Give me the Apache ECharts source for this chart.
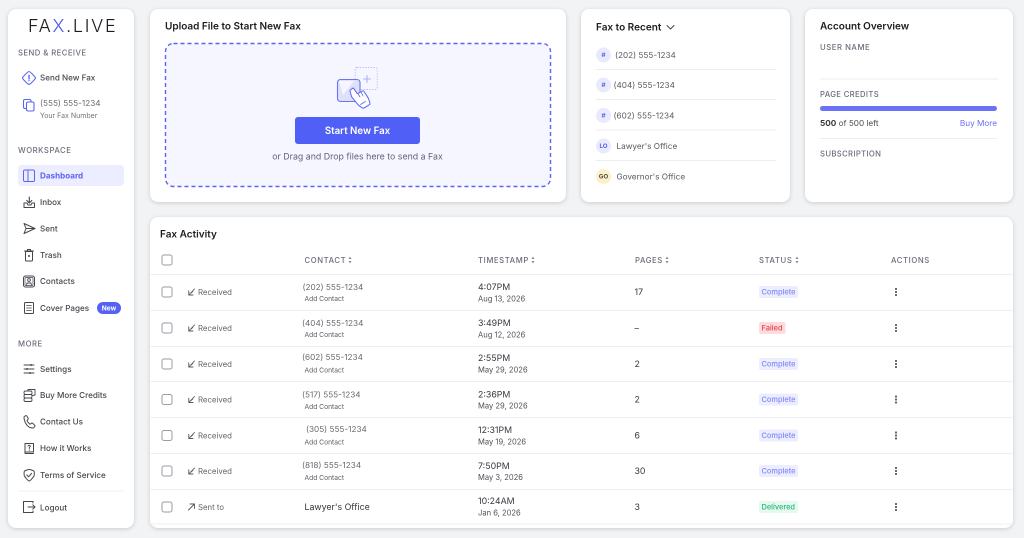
<!DOCTYPE html>
<html><head><meta charset="utf-8">
<style>html,body{margin:0;padding:0;background:#f2f3f5}#c{width:1024px;height:538px}</style>
<script src="https://cdn.jsdelivr.net/npm/echarts@6/dist/echarts.min.js"></script>
</head><body><div id="c"></div>
<script>
// ---- data ----
const workspaceItems = ['Inbox','Sent','Trash','Contacts','Cover Pages'];
const moreItems = ['Settings','Buy More Credits','Contact Us','How it Works','Terms of Service'];
const recentNames = ['(202) 555-1234','(404) 555-1234','(602) 555-1234',"Lawyer's Office","Governor's Office"];
const recentBadges = ['#','#','#','LO','GO'];
const directions = ['Received','Received','Received','Received','Received','Received','Sent to'];
const contacts = ['(202) 555-1234','(404) 555-1234','(602) 555-1234','(517) 555-1234','(305) 555-1234','(818) 555-1234',"Lawyer's Office"];
const times = ['4:07PM','3:49PM','2:55PM','2:36PM','12:31PM','7:50PM','10:24AM'];
const dates = ['Aug 13, 2026','Aug 12, 2026','May 29, 2026','May 29, 2026','May 19, 2026','May 3, 2026','Jan 6, 2026'];
const pages = ['17','–','2','2','6','30','3'];
const statuses = ['Complete','Failed','Complete','Complete','Complete','Complete','Delivered'];
const tableHeaders = ['CONTACT','TIMESTAMP','PAGES','STATUS','ACTIONS'];
const creditsLeft = [500];
const creditsTotal = 500;

// ---- letter spacing for the tracked labels ----
const tracking = {'FA':1.7,'X':1.7,'.LIVE':1.7,'SEND & RECEIVE':.45,'WORKSPACE':.55,'MORE':.55,'USER NAME':.55,'PAGE CREDITS':.35,'SUBSCRIPTION':.35,
 'CONTACT':.6,'TIMESTAMP':.6,'PAGES':.6,'STATUS':.6,'ACTIONS':.6};
['fillText','measureText'].forEach(m=>{
  const p=CanvasRenderingContext2D.prototype, o=p[m];
  p[m]=function(t,...a){ this.letterSpacing=(tracking[t]||0)+'px'; const r=o.call(this,t,...a); this.letterSpacing='0px'; return r; };
});

// ---- drawing helpers ----
const els=[]; const F='Inter';
const BLUE='#5c64f2', INK='#46464e', HEAD='#6c6c7c';
function T(x,y,text,size,fill,weight,align){els.push({type:'text',silent:true,style:{text,x,y:y+.5,fontSize:size,fontFamily:F,fontWeight:weight||400,fill,
  textAlign:align||'left',align:align||'left',textVerticalAlign:'middle',verticalAlign:'middle'}});}
function R(x,y,w,h,r,fill,stroke,lw,extra){els.push({type:'rect',silent:true,shape:{x,y,width:w,height:h,r},style:Object.assign({fill:fill||'none',stroke:stroke||'none',lineWidth:lw||1},extra||{})});}
function C(cx,cy,r,fill,stroke,lw){els.push({type:'circle',silent:true,shape:{cx,cy,r},style:{fill:fill||'none',stroke:stroke||'none',lineWidth:lw||1}});}
function P(points,stroke,lw){els.push({type:'polyline',silent:true,shape:{points},style:{fill:'none',stroke,lineWidth:lw||1,lineJoin:'round',lineCap:'round'}});}
function G(points,fill,stroke,lw,smooth){els.push({type:'polygon',silent:true,shape:{points,smooth:smooth||0},style:{fill:fill||'none',stroke:stroke||'none',lineWidth:lw||1,lineJoin:'round'}});}
function card(x,y,w,h){R(x,y,w,h,8,'#fff',null,1,{shadowColor:'rgba(0,0,0,.16)',shadowBlur:4,shadowOffsetY:1});}
const line=(x1,x2,y,c)=>P([[x1,y],[x2,y]],c||'#eeeef1',1);

// ---- cards ----
card(8,9,126,519); card(150,9,416,193); card(581,9,209,193); card(805,9,208,193); card(150,217,863,311);

// ---- sidebar ----
els.push({type:'text',silent:true,style:{text:'{a|FA}{b|X}{a|.LIVE}',x:28,y:26.5,textAlign:'left',align:'left',textVerticalAlign:'middle',verticalAlign:'middle',
  rich:{a:{fontSize:18,fontFamily:F,fontWeight:300,fill:'#1b1b22'},b:{fontSize:18,fontFamily:F,fontWeight:300,fill:'#4a55f0'}}}});
const HS=7.7, NAV=8.1;
T(18,52.5,'SEND & RECEIVE',HS,HEAD,500);
T(40,77.5,'Send New Fax',NAV,INK,500);
T(40,103,'(555) 555-1234',8.2,'#6a6a72');
T(40,115.5,'Your Fax Number',7,'#74747e');
T(18,150,'WORKSPACE',HS,HEAD,500);
R(18,165,106,21,4,'#ecedfe');
T(40,175.5,'Dashboard',8.1,BLUE,700);
const wsY=[202,228.5,255,281,308];
workspaceItems.forEach((n,i)=>T(40,wsY[i],n,NAV,INK,500));
R(97,302,24,12,6,'#5560f5');
T(109,308,'New',6.6,'#fff',700,'center');
T(18,343.5,'MORE',HS,HEAD,500);
const moreY=[369,395,421.5,448,475];
moreItems.forEach((n,i)=>T(40,moreY[i],n,NAV,INK,500));
line(18,124,491,'#f2f2f4');
T(40,507.5,'Logout',NAV,INK,500);

// sidebar icons
G([[29,71.5],[35.5,78],[29,84.5],[22.5,78]],'none',BLUE,1.1,.15);
P([[29,75.5],[29,78.5]],BLUE,1.4); P([[29,80],[29,80.6]],BLUE,1.2);
R(23.5,99.5,7.5,9,1.5,'none',BLUE,1.1); R(26.5,102,7.5,9,1.5,'#fff',BLUE,1.1);
R(23.5,170,11,11.5,1.5,'#ecedfe',BLUE,1); P([[28,170],[28,181.5]],BLUE,1);
P([[24,203],[27,203],[28,205],[31,205],[32,203],[34.5,203],[34.5,207.5],[24,207.5],[24,203]],INK,1);
P([[29.3,197],[29.3,203]],INK,1.1); P([[26.8,200.5],[29.3,203],[31.8,200.5]],INK,1.1);
G([[24,223.5],[35,228.5],[24,233.5],[26,228.5]],'none',INK,1); P([[26,228.5],[35,228.5]],INK,.9);
R(25.5,251.5,7,9.5,1,'none',INK,1); P([[24.5,251],[33.5,251]],INK,1); P([[27.5,251],[27.5,249.5],[30.5,249.5],[30.5,251]],INK,1); C(29,256,1,INK);
R(23.5,276,11,11,2,'none',INK,1); R(25,277.5,8,8,1,'none',INK,.7); C(29,280,1.4,'none',INK,.9); P([[26.6,285],[27,283],[31,283],[31.4,285]],INK,.9);
R(24.5,302.5,9,11,1,'none',INK,1); [305.5,308,310.5].forEach(y=>P([[26.5,y],[31.5,y]],INK,.8));
[365,369,373].forEach((y,i)=>{P([[24,y],[34,y]],INK,.9);C([31,27,30][i],y,1,INK);});
R(24,391,8,3.5,1.5,'none',INK,.9);R(24,394.5,8,3.5,1.5,'none',INK,.9);R(24,398,8,3.5,1.5,'none',INK,.9);P([[28,391],[28,389.5],[35,389.5],[35,395],[32.5,395.5]],INK,.9);
G([[24,417],[26.3,415.6],[28.3,419],[27,420.6],[30,424.2],[32,423],[35,425.8],[33,428],[29,427],[25.5,423]],'none',INK,1,.25);
P([[25,443.5],[33.5,443.5],[33.5,452],[25,452],[25,443.5]],INK,1); P([[25,452],[25,453.5],[33.5,453.5]],INK,1);
P([[28,446],[29,445.2],[30.5,446],[29.3,447.8],[29.3,448.6]],INK,.9); P([[29.3,450],[29.3,450.5]],INK,.9);
G([[29.2,469.5],[34,471.2],[34,476],[29.2,481],[24.4,476],[24.4,471.2]],'none',INK,1,.2); P([[26.8,475],[28.6,476.8],[31.6,473.4]],INK,1);
P([[33,503],[33,501.5],[23.5,501.5],[23.5,512.5],[33,512.5],[33,511]],INK,1); P([[28,507],[35,507]],INK,1); P([[32.8,504.8],[35,507],[32.8,509.2]],INK,1);

// ---- upload card ----
T(165,26,'Upload File to Start New Fax',10,'#1c1c22',600);
R(165.5,43.5,385,143,8,'#f5f6ff','#5a63f2',1.4,{lineDash:[4,3]});
R(355.2,67.5,22,22,1.5,'none','#b8bbfa',.9,{lineDash:[1.4,1.4]});
P([[363.5,79],[370.5,79]],'#aeb2f8',1.1); P([[367,75.5],[367,82.5]],'#aeb2f8',1.1);
R(337.5,79.5,22.5,22,3,'#dfe1fb','#6d74f4',1.1);
G([[339,81],[354,81],[343,95]],'#f5f6ff');
G([[350,90.5],[353.3,88],[357.3,93.6],[363.3,90.7],[368.3,98.3],[370,104],[363.3,108.3],[358.3,105],[351.7,96.7]],'#fff',BLUE,1,.1);
[[358,93.5,360,97],[361,92,363,96]].forEach(a=>P([[a[0],a[1]],[a[2],a[3]]],BLUE,.8));
P([[360.5,104.5],[365.5,101.5]],BLUE,.8);
R(295,117,125,27,3,'#505ff6');
T(357.5,130.5,'Start New Fax',9.7,'#fff',600,'center');
T(357.5,156.5,'or Drag and Drop files here to send a Fax',8.8,'#62647a',400,'center');

// ---- recent card ----
T(596,27,'Fax to Recent',10,'#1c1c22',600);
P([[667,25.5],[670.5,29],[674,25.5]],'#444',1);
const recY=[55,85,115.5,146,176.5], recX=[615,613.5,613.5,616.5,616.5];
recentNames.forEach((n,i)=>{
  const go=recentBadges[i]==='GO';
  C(603.5,recY[i],7.5,go?'#fdf0c8':'#e9eafd');
  T(603.5,recY[i]-.5,recentBadges[i],6.2,go?'#55524a':'#5c64f2',700,'center');
  T(recX[i],recY[i],n,8.2,'#5a5a62');
  if(i<4) line(596,775,recY[i]+14.5);
});

// ---- account card ----
T(820,26,'Account Overview',10,'#1c1c22',600);
T(820,47,'USER NAME',HS,HEAD,500);
line(820,997,79);
T(820,94,'PAGE CREDITS',HS,HEAD,500);
els.push({type:'text',silent:true,style:{text:'{a|'+creditsLeft[0]+'}{b| of '+creditsTotal+' left}',x:820,y:123.5,textAlign:'left',align:'left',textVerticalAlign:'middle',verticalAlign:'middle',
  rich:{a:{fontSize:8.2,fontFamily:F,fontWeight:700,fill:'#3a3a42'},b:{fontSize:8.2,fontFamily:F,fontWeight:400,fill:'#4c4c54'}}}});
T(997,123,'Buy More',8.2,'#6a70f2',400,'right');
line(820,997,138.5);
T(820,153.5,'SUBSCRIPTION',HS,HEAD,500);

// ---- activity table ----
T(160,234,'Fax Activity',10,'#1c1c22',600);
const box=y=>R(162,y-5,10,10,2,'#fff','#9c9ca4',1);
box(260);
const headX=[304.5,478,635,759,891], sortX=[350,533,667,797];
tableHeaders.forEach((h,i)=>{
  T(headX[i],260,h,7.7,HEAD,500);
  if(i<4){G([[sortX[i]-1.6,259],[sortX[i]+1.6,259],[sortX[i],256.6]],'#8c8c96');G([[sortX[i]-1.6,261],[sortX[i]+1.6,261],[sortX[i],263.4]],'#8c8c96');}
});
const rowY=[292,328,364,399.5,435.5,471,507];
const rowLines=[274.5,310.5,346.5,381.5,417.5,453.5,489.5,524];
rowLines.forEach(y=>line(150.5,1012.5,y,'#f0f0f2'));
const phoneDy=[-5,-5,-7,-5,-6.5,-6], phoneX=[302.5,302,302,302,306,302], addDy=[6.5,6.5,6,7,6.5,6.5];
const timeDy=[-5,-5,-6,-5,-5.5,-5,-6], dateDy=[6.5,6.5,5.5,6,6,6,5.5];
const badge={Complete:['#ecedff','#8087f8',39],Failed:['#fcdcdd','#ef3b4c',26.5],Delivered:['#e5f9f0','#25b877',39]};
contacts.forEach((c,i)=>{
  const y=rowY[i]; box(y);
  const sent=directions[i]==='Sent to';
  if(sent){P([[188.5,510],[194.5,504]],'#55555c',.9);P([[190,504],[194.5,504],[194.5,508.5]],'#55555c',.9);}
  else{P([[194.5,y-3],[188.8,y+3]],'#55555c',.9);P([[188.8,y-1.2],[188.8,y+3],[193,y+3]],'#55555c',.9);P([[193,y-.5],[191,y+1.2]],'#55555c',.6);}
  T(198,y,directions[i],7.8,'#66666e');
  if(sent){T(304.5,y,c,8.8,'#35353c');}
  else{T(phoneX[i],y+phoneDy[i],c,8.2,'#6a6a72');T(304.5,y+addDy[i],'Add Contact',6.7,'#5c5c64');}
  T(478,y+timeDy[i],times[i],8.8,'#3a3a42');
  T(478,y+dateDy[i],dates[i],7.6,'#52525a');
  T(634.5,y,pages[i],8.8,'#3e3e46',400);
  const b=badge[statuses[i]];
  R(759,y-6,b[2],12,2,b[0]);
  T(761.5,y,statuses[i],7.4,b[1],500);
  [-3,0,3].forEach(d=>R(895,y+d-1,2,2,.5,'#606068'));
});

// ---- chart ----
const chart=echarts.init(document.getElementById('c'),null,{renderer:'canvas',width:1024,height:538,devicePixelRatio:2});
chart.setOption({
  animation:false,
  backgroundColor:'#f2f3f5',
  graphic:{z:0,elements:els},
  grid:{left:820,top:106,width:177,height:5,containLabel:false},
  xAxis:{type:'value',min:0,max:creditsTotal,show:false},
  yAxis:{type:'category',data:['credits'],show:false},
  series:[{type:'bar',data:creditsLeft,barWidth:5,z:5,silent:true,itemStyle:{color:'#6a72f6',borderRadius:2.5}}]
});
</script></body></html>
